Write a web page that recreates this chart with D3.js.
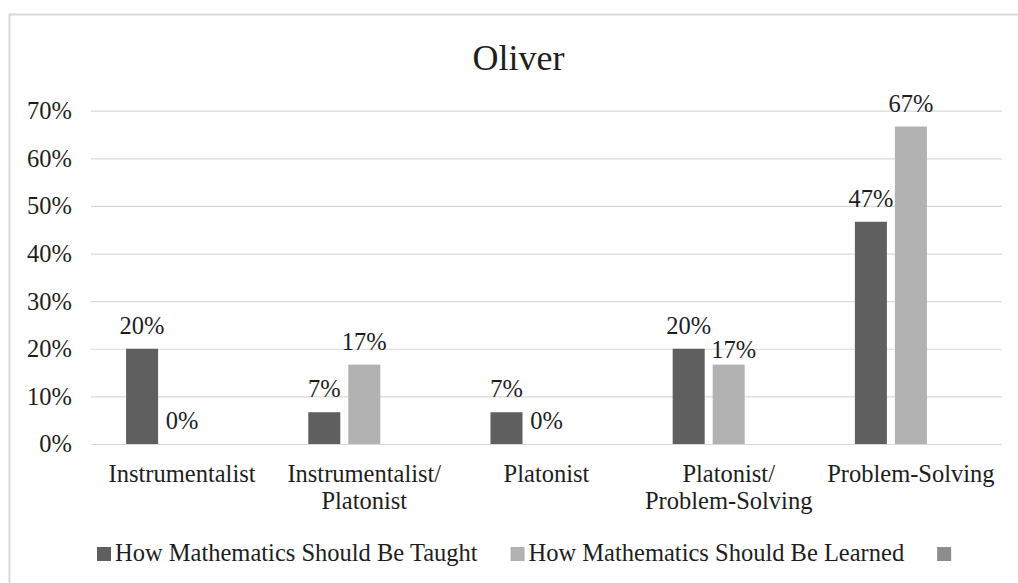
<!DOCTYPE html>
<html>
<head>
<meta charset="utf-8">
<script src="https://cdn.jsdelivr.net/npm/d3@7"></script>
</head>
<body style="margin:0">
<svg id="chart" width="1018" height="583" font-family="Liberation Serif"></svg>
<script>
// Belief categories along the x axis
const categories = [
  "Instrumentalist",
  "Instrumentalist/Platonist",
  "Platonist",
  "Platonist/Problem-Solving",
  "Problem-Solving"
];

// Series names (third series is empty)
const seriesNames = [
  "How Mathematics Should Be Taught",
  "How Mathematics Should Be Learned",
  ""
];

// Share of responses per category
const taughtValues  = [0.20, 0.0667, 0.0667, 0.20, 0.4667];
const learnedValues = [0.00, 0.1667, 0.00, 0.1667, 0.6667];
const thirdValues   = [null, null, null, null, null];

// Y axis ticks
const yTickValues = [0, 0.1, 0.2, 0.3, 0.4, 0.5, 0.6, 0.7];
const yTickLabels = ["0%", "10%", "20%", "30%", "40%", "50%", "60%", "70%"];

const seriesColors = ["#5f5f5f", "#b2b2b2", "#8c8c8c"];
const seriesValues = [taughtValues, learnedValues, thirdValues];

const FONT = "Liberation Serif";
const INK = "#1e1e1e";
const TEXT_SIZE = 24.5;

const svg = d3.select("#chart");

// Outer chart frame
svg.append("rect")
  .attr("x", 9.5).attr("y", 14.5)
  .attr("width", 1030).attr("height", 600)
  .attr("fill", "#fff")
  .attr("stroke", "#d9d9d9")
  .attr("stroke-width", 2);

// Title
svg.append("text")
  .attr("x", 518.5).attr("y", 70)
  .attr("text-anchor", "middle")
  .attr("fill", INK)
  .attr("font-family", FONT)
  .attr("font-size", 36)
  .text("Oliver");

const plotLeft = 91, plotRight = 1002;
const y = d3.scaleLinear().domain([0, 0.7]).range([444, 110.7]);

const x0 = d3.scaleBand()
  .domain(categories)
  .range([plotLeft, plotRight])
  .paddingInner(0.385)
  .paddingOuter(0.1925);

const x1 = d3.scaleBand()
  .domain(d3.range(seriesNames.length))
  .range([0, x0.bandwidth()])
  .paddingInner(0.2)
  .paddingOuter(0);

// Gridlines and y labels
const yAxis = d3.axisLeft(y)
  .tickValues(yTickValues)
  .tickFormat((d, i) => yTickLabels[i])
  .tickSize(-(plotRight - plotLeft))
  .tickPadding(19);

const yg = svg.append("g")
  .attr("transform", `translate(${plotLeft},0)`)
  .call(yAxis)
  .attr("font-family", FONT)
  .attr("font-size", TEXT_SIZE);
yg.select(".domain").remove();
yg.selectAll(".tick line").attr("stroke", "#d9d9d9").attr("stroke-width", 1.2);
yg.selectAll(".tick text").attr("fill", INK);

// Bars
const rows = categories.map((c, ci) => ({
  cat: c,
  vals: seriesValues.map((s, si) => ({ si, v: s[ci] }))
}));

const groups = svg.append("g").selectAll("g")
  .data(rows)
  .join("g")
  .attr("transform", d => `translate(${x0(d.cat)},0)`);

groups.selectAll("rect")
  .data(d => d.vals.filter(e => e.v !== null))
  .join("rect")
  .attr("x", d => x1(d.si))
  .attr("width", x1.bandwidth())
  .attr("y", d => y(d.v))
  .attr("height", d => y(0) - y(d.v))
  .attr("fill", d => seriesColors[d.si]);

// Value labels; the second label is nudged down when it would collide with the first
const fmt = d3.format(".0%");
groups.each(function (d) {
  const g = d3.select(this);
  let prevY = null;
  d.vals.forEach(e => {
    if (e.v === null) return;
    let ly = y(e.v) - 15;
    let dx = 0;
    if (prevY !== null && Math.abs(ly - prevY) < 20) {
      ly = prevY + 24;
      dx = 5;
    }
    g.append("text")
      .attr("x", x1(e.si) + x1.bandwidth() / 2 + dx)
      .attr("y", ly)
      .attr("text-anchor", "middle")
      .attr("fill", INK)
      .attr("font-family", FONT)
      .attr("font-size", TEXT_SIZE)
      .text(fmt(e.v));
    prevY = ly;
  });
});

// Category labels, wrapped after "/"
svg.append("g").selectAll("text")
  .data(categories)
  .join("text")
  .attr("y", 482)
  .attr("text-anchor", "middle")
  .attr("fill", INK)
  .attr("font-family", FONT)
  .attr("font-size", TEXT_SIZE)
  .each(function (d) {
    const parts = d.split(/(?<=\/)/);
    const t = d3.select(this);
    const cx = x0(d) + x0.bandwidth() / 2;
    parts.forEach((p, i) => {
      t.append("tspan")
        .attr("x", cx)
        .attr("dy", i === 0 ? 0 : 27)
        .text(p);
    });
  });

// Legend
const legend = svg.append("g");
let lx = 97;
seriesNames.forEach((name, i) => {
  legend.append("rect")
    .attr("x", lx).attr("y", 547)
    .attr("width", 14).attr("height", 14)
    .attr("fill", seriesColors[i]);
  lx += 18;
  if (name) {
    const t = legend.append("text")
      .attr("x", lx).attr("y", 561)
      .attr("fill", INK)
      .attr("font-family", FONT)
      .attr("font-size", TEXT_SIZE)
      .text(name);
    lx += t.node().getComputedTextLength() + 33;
  }
});
</script>
</body>
</html>
